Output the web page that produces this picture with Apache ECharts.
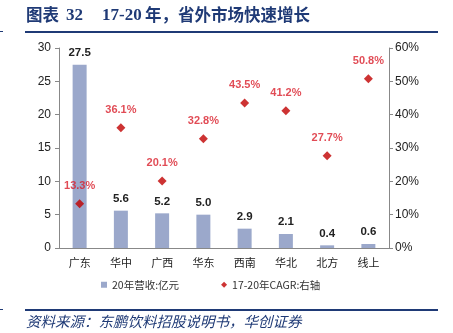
<!DOCTYPE html>
<html><head><meta charset="utf-8">
<script src="https://cdn.jsdelivr.net/npm/echarts@6/dist/echarts.min.js"></script>
<style>html,body{margin:0;padding:0;background:#fff}#c{width:453px;height:333px}</style>
</head><body><div id="c"></div>
<script>
const categories = ['广东','华中','广西','华东','西南','华北','北方','线上'];
const revenue = [27.5, 5.6, 5.2, 5.0, 2.9, 2.1, 0.4, 0.6];
const cagr = [0.133, 0.361, 0.201, 0.328, 0.435, 0.412, 0.277, 0.508];
const leftTicks = [0, 5, 10, 15, 20, 25, 30];
const rightTicks = [0, 0.1, 0.2, 0.3, 0.4, 0.5, 0.6];
const titleParts = ['图表', '32', '17-20', '年，省外市场快速增长'];
const sourceText = '资料来源：东鹏饮料招股说明书，华创证券';
const seriesNames = ['20年营收:亿元', '17-20年CAGR:右轴'];

const navy = '#1F3A76';
const cjkBold = 'bold 16.5px "Noto Sans CJK SC"';
const serifBold = 'bold 17px "Liberation Serif"';
const chart = echarts.init(document.getElementById('c'));
chart.setOption({
  animation: false,
  grid: {left: 59, right: 64, top: 48, bottom: 85},
  xAxis: {
    type: 'category', data: categories,
    axisLine: {lineStyle: {color: '#888', width: 1}},
    axisTick: {show: false},
    axisLabel: {color: '#222', fontSize: 11, margin: 9, fontFamily: 'Noto Sans CJK SC'}
  },
  yAxis: [{
    type: 'value', min: leftTicks[0], max: leftTicks[leftTicks.length-1], interval: 5,
    axisLine: {show: true, lineStyle: {color: '#888'}},
    axisTick: {show: true, length: 4, lineStyle: {color: '#888'}},
    splitLine: {show: false},
    axisLabel: {color: '#222', fontSize: 12, margin: 8, fontFamily: 'Liberation Sans'}
  }, {
    type: 'value', min: rightTicks[0], max: rightTicks[rightTicks.length-1], interval: 0.1,
    axisLine: {show: true, lineStyle: {color: '#888'}},
    axisTick: {show: true, length: 4, lineStyle: {color: '#888'}},
    splitLine: {show: false},
    axisLabel: {color: '#222', fontSize: 12, margin: 6, fontFamily: 'Liberation Sans',
      formatter: v => Math.round(v*100) + '%'}
  }],
  legend: {
    bottom: 38, left: 96, itemGap: 42, itemWidth: 6, itemHeight: 6,
    textStyle: {color: '#333', fontSize: 10.5, fontFamily: 'Noto Sans CJK SC'},
    data: [{name: seriesNames[0], icon: 'rect'}, {name: seriesNames[1], icon: 'diamond'}]
  },
  series: [{
    name: seriesNames[0], type: 'bar', data: revenue, barWidth: 14,
    itemStyle: {color: '#9BA8CB'},
    label: {show: true, position: 'top', distance: 6, color: '#222', fontWeight: 'bold', fontSize: 11.5,
      fontFamily: 'Liberation Sans', formatter: p => p.value.toFixed(1)}
  }, {
    name: seriesNames[1], type: 'scatter', yAxisIndex: 1, data: cagr,
    symbol: 'diamond', symbolSize: 9, itemStyle: {color: '#C00000'},
    label: {show: true, position: 'top', distance: 8, color: '#D91E2A', fontWeight: 'bold', fontSize: 11,
      fontFamily: 'Liberation Sans', formatter: p => (p.value*100).toFixed(1) + '%'}
  }],
  graphic: [
    {type: 'text', left: 26, top: 6, style: {text: titleParts[0], fill: navy, font: cjkBold}},
    {type: 'text', left: 66, top: 7, style: {text: titleParts[1], fill: navy, font: serifBold}},
    {type: 'text', left: 102, top: 7, style: {text: titleParts[2], fill: navy, font: serifBold}},
    {type: 'text', left: 145, top: 6, style: {text: titleParts[3], fill: navy, font: cjkBold}},
    {type: 'rect', shape: {x: 25, y: 31, width: 413, height: 2}, style: {fill: navy}},
    {type: 'rect', shape: {x: 0, y: 31, width: 3, height: 1}, style: {fill: navy}},
    {type: 'rect', shape: {x: 25, y: 309, width: 413, height: 2}, style: {fill: navy}},
    {type: 'rect', shape: {x: 0, y: 309, width: 3, height: 1}, style: {fill: navy}},
    {type: 'text', left: 26, top: 314, style: {text: sourceText, fill: navy, font: 'italic 14.5px "Noto Sans CJK SC"'}}
  ]
});
</script></body></html>
